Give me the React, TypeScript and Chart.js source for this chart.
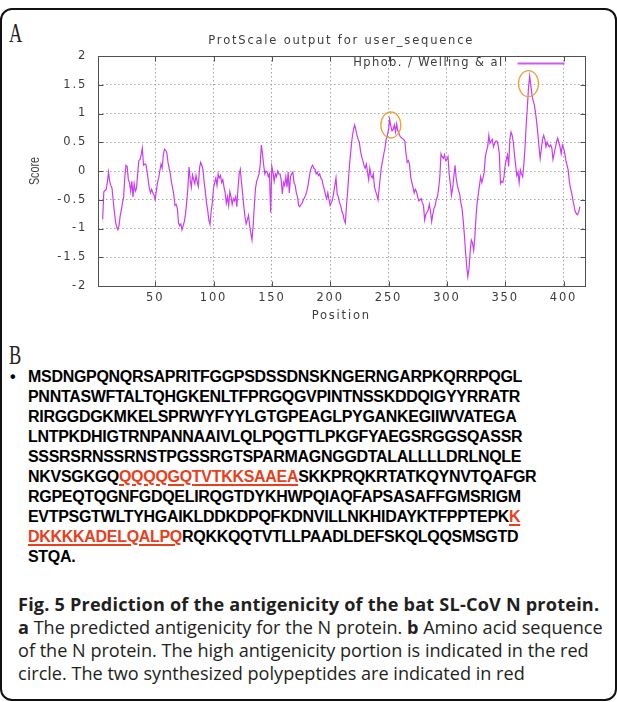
import React, { useEffect, useRef } from "react";
import { Chart, registerables } from "chart.js";

Chart.register(...registerables);

// ---------- DATA ----------
const FIRST_POSITION = 5;
const scores: number[] = [
  -0.84, -0.36, -0.34, -0.32, -0.2, -0.02, -0.18, -0.25, -0.3, -0.5,
  -0.7, -0.88, -0.97, -1.02, -0.95, -0.78, -0.68, -0.55, -0.45, -0.1,
  0.1, 0.08, -0.15, -0.2, -0.35, -0.18, -0.45, -0.22, -0.35, -0.3,
  -0.05, 0.18, 0.2, 0.28, 0.4, 0.1, 0.12, 0.12, 0.0, -0.15,
  -0.3, -0.38, -0.32, -0.38, -0.42, -0.5, -0.35, -0.2, -0.12, 0.0,
  0.12, 0.05, 0.28, 0.38, 0.36, 0.32, 0.15, 0.05, -0.05, -0.2,
  -0.3, -0.42, -0.6, -0.58, -0.65, -0.9, -0.95, -0.92, -1.02, -0.95,
  -0.88, -0.75, -0.55, -0.3, 0.07, -0.15, -0.28, -0.07, -0.15, -0.22,
  -0.08, -0.18, -0.27, 0.05, 0.15, 0.1, 0.02, -0.2, -0.35, -0.55,
  -0.68, -0.85, -0.93, -0.7, -0.55, -0.3, -0.2, -0.12, -0.25, -0.05,
  -0.12, -0.08, -0.2, -0.15, -0.28, -0.38, -0.56, -0.45, -0.6, -0.36,
  -0.45, -0.58, -0.48, -0.52, -0.45, -0.62, -0.3, -0.05, 0.03, -0.2,
  -0.4, -0.62, -0.8, -0.92, -0.85, -0.77, -0.95, -1.08, -1.2, -0.95,
  -0.6, -0.3, -0.18, -0.12, -0.05, 0.1, 0.45, 0.3, 0.1, -0.05,
  0.0, -0.02, -0.1, -0.05, -0.72, 0.08, -0.02, -0.18, -0.05, -0.1,
  0.0, -0.05, -0.05, -0.15, -0.4, -0.2, -0.25, -0.1, -0.28, -0.02,
  -0.38, -0.1, -0.05, -0.02, -0.2, -0.25, -0.38, -0.45, -0.6, -0.62,
  -0.58, -0.56, -0.5, -0.46, -0.42, -0.35, -0.25, -0.12, 0.0, 0.07,
  0.1, 0.05, 0.03, -0.05, -0.02, -0.08, -0.05, -0.12, -0.15, -0.25,
  -0.32, -0.42, -0.48, -0.38, -0.5, -0.6, -0.55, -0.5, -0.38, -0.25,
  -0.12, -0.4, -0.45, -0.55, -0.6, -0.7, -0.75, -0.85, -0.9, -0.6,
  -0.35, -0.05, 0.2, 0.42, 0.6, 0.72, 0.8, 0.72, 0.62, 0.55,
  0.5, 0.35, 0.25, 0.18, 0.1, 0.05, 0.12, -0.02, -0.15, 0.05,
  -0.08, -0.12, -0.05, -0.28, -0.35, -0.42, -0.5, -0.3, -0.1, 0.08,
  0.18, 0.3, 0.4, 0.55, 0.62, 0.72, 0.9, 0.78, 0.7, 0.72,
  0.8, 0.68, 0.82, 0.7, 0.65, 0.6, 0.58, 0.56, 0.55, 0.52,
  0.3, 0.15, 0.18, 0.12, -0.1, -0.2, -0.28, -0.38, -0.32, -0.36,
  -0.45, -0.52, -0.5, -0.48, -0.55, -0.6, -0.85, -0.75, -0.72, -0.68,
  -0.58, -0.7, -0.88, -0.75, -0.65, -0.6, -0.5, -0.44, -0.3, -0.1,
  0.3, 0.25, 0.22, 0.28, 0.18, 0.2, 0.25, -0.05, -0.22, -0.42,
  -0.3, -0.1, 0.1, -0.12, -0.25, -0.33, -0.4, -0.55, -0.65, -0.85,
  -1.1, -1.4, -1.65, -1.84, -1.7, -1.4, -1.2, -1.25, -1.38, -1.15,
  -0.8, -0.55, -0.4, -0.25, -0.1, -0.2, -0.12, -0.02, 0.25, 0.35,
  0.42, 0.62, 0.48, 0.52, 0.55, 0.42, 0.48, 0.52, 0.52, 0.45,
  0.3, -0.22, -0.18, -0.2, -0.1, 0.1, 0.2, 0.28, 0.08, 0.55,
  0.68, 0.62, 0.5, 0.28, 0.1, -0.08, -0.02, -0.2, 0.02, -0.05,
  -0.1, 0.12, 0.4, 0.8, 1.1, 1.45, 1.65, 1.48, 1.32, 1.22,
  1.15, 1.02, 0.85, 0.65, 0.42, 0.22, 0.38, 0.55, 0.62, 0.55,
  0.42, 0.5, 0.45, 0.42, 0.45, 0.4, 0.2, 0.3, 0.4, 0.5,
  0.57, 0.5, 0.42, 0.3, 0.45, 0.4, 0.32, 0.18, 0.1, 0.02,
  -0.18, -0.3, -0.38, -0.5, -0.6, -0.7, -0.74, -0.76, -0.72, -0.62,
];
const X_MIN = 1;
const X_MAX = 418;
const xTicks = [50, 100, 150, 200, 250, 300, 350, 400];
const yTicks = [-2, -1.5, -1, -0.5, 0, 0.5, 1, 1.5, 2];
const circleX = [252, 370];
const circleY = [0.8, 1.52];

const chartTitle = "ProtScale output for user_sequence";
const legendLabel = "Hphob. / Welling & al";
const xTitle = "Position";
const yTitle = "Score";

const seqRows: { t: string; red?: boolean }[][] = [
  [{ t: "MSDNGPQNQRSAPRITFGGPSDSSDNSKNGERNGARPKQRRPQGL" }],
  [{ t: "PNNTASWFTALTQHGKENLTFPRGQGVPINTNSSKDDQIGYYRRATR" }],
  [{ t: "RIRGGDGKMKELSPRWYFYYLGTGPEAGLPYGANKEGIIWVATEGA" }],
  [{ t: "LNTPKDHIGTRNPANNAAIVLQLPQGTTLPKGFYAEGSRGGSQASSR" }],
  [{ t: "SSSRSRNSSRNSTPGSSRGTSPARMAGNGGDTALALLLLDRLNQLE" }],
  [{ t: "NKVSGKGQ" }, { t: "QQQQGQTVTKKSAAEA", red: true }, { t: "SKKPRQKRTATKQYNVTQAFGR" }],
  [{ t: "RGPEQTQGNFGDQELIRQGTDYKHWPQIAQFAPSASAFFGMSRIGM" }],
  [{ t: "EVTPSGTWLTYHGAIKLDDKDPQFKDNVILLNKHIDAYKTFPPTEPK" }, { t: "K", red: true }],
  [{ t: "DKKKKADELQALPQ", red: true }, { t: "RQKKQQTVTLLPAADLDEFSKQLQQSMSGTD" }],
  [{ t: "STQA." }],
];

const captionTitle = "Fig. 5 Prediction of the antigenicity of the bat SL-CoV N protein.";
const captionLines: { t: string; b?: boolean }[][] = [
  [{ t: "a", b: true }, { t: " The predicted antigenicity for the N protein. " }, { t: "b", b: true }, { t: " Amino acid sequence" }],
  [{ t: "of the N protein. The high antigenicity portion is indicated in the red" }],
  [{ t: "circle. The two synthesized polypeptides are indicated in red" }],
];

// ---------- STYLE ----------
const GP_FONT = '"DejaVu Sans", sans-serif';
const GP_SIZE = 11.5;
const GP_TEXT = "#3c3c3c";
const LINE_COLOR = "#c93cf3";
const RED = "#e8401c";

const gnuplotPlugin = {
  id: "gnuplotDecor",
  beforeDraw(chart: any) {
    chart.ctx.letterSpacing = "1.8px";
  },
  afterDraw(chart: any) {
    const { ctx, chartArea: a } = chart;
    const x = chart.scales.x;
    const y = chart.scales.y;
    ctx.save();
    // plot frame
    ctx.strokeStyle = "#505050";
    ctx.lineWidth = 1;
    ctx.setLineDash([]);
    const L = Math.round(a.left) + 0.5;
    const T = Math.round(a.top) + 0.5;
    const R = Math.round(a.right) + 0.5;
    const B = Math.round(a.bottom) + 0.5;
    ctx.strokeRect(L, T, R - L, B - T);
    // tick marks (gnuplot style, inward, mirrored)
    ctx.beginPath();
    for (const v of xTicks) {
      const px = Math.round(x.getPixelForValue(v)) + 0.5;
      ctx.moveTo(px, B);
      ctx.lineTo(px, B - 5);
      ctx.moveTo(px, T);
      ctx.lineTo(px, T + 5);
    }
    for (const v of yTicks) {
      const py = Math.round(y.getPixelForValue(v)) + 0.5;
      ctx.moveTo(L, py);
      ctx.lineTo(L + 5, py);
      ctx.moveTo(R, py);
      ctx.lineTo(R - 5, py);
    }
    ctx.stroke();

    // highlight circles
    ctx.strokeStyle = "#eaa43a";
    ctx.lineWidth = 1.3;
    for (let i = 0; i < circleX.length; i++) {
      ctx.beginPath();
      ctx.ellipse(x.getPixelForValue(circleX[i]), y.getPixelForValue(circleY[i]), 10, 13, 0, 0, Math.PI * 2);
      ctx.stroke();
    }

    // texts
    ctx.fillStyle = GP_TEXT;
    ctx.font = `${GP_SIZE}px ${GP_FONT}`;
    ctx.letterSpacing = "1.8px";
    ctx.textBaseline = "middle";
    ctx.textAlign = "center";
    ctx.fillText(chartTitle, (a.left + a.right) / 2, a.top - 14.5);
    ctx.fillText(xTitle, (a.left + a.right) / 2, a.bottom + 30);
    // legend
    ctx.letterSpacing = "1.4px";
    ctx.textAlign = "right";
    ctx.fillText(legendLabel, a.right - 81, a.top + 7.5);
    ctx.strokeStyle = "#cf5cf2";
    ctx.lineWidth = 1.8;
    ctx.beginPath();
    ctx.moveTo(a.right - 67, a.top + 7.5);
    ctx.lineTo(a.right - 20, a.top + 7.5);
    ctx.stroke();
    // y title (condensed)
    ctx.letterSpacing = "0px";
    ctx.font = '15px "Liberation Sans", sans-serif';
    ctx.fillStyle = "#444";
    ctx.translate(35, (a.top + a.bottom) / 2);
    ctx.rotate(-Math.PI / 2);
    ctx.scale(0.72, 1);
    ctx.textAlign = "center";
    ctx.fillText(yTitle, 0, 0);
    ctx.restore();
    ctx.letterSpacing = "0px";
  },
};

function ProtScaleChart() {
  const ref = useRef<HTMLCanvasElement | null>(null);
  useEffect(() => {
    if (!ref.current) return;
    const tickFont = { family: GP_FONT, size: GP_SIZE };
    const chart = new Chart(ref.current, {
      type: "line",
      data: {
        datasets: [
          {
            label: legendLabel,
            data: scores.map((v, i) => ({ x: FIRST_POSITION + i, y: v })),
            borderColor: LINE_COLOR,
            borderWidth: 1.2,
            pointRadius: 0,
            tension: 0,
            fill: false,
          },
        ],
      },
      options: {
        animation: false,
        responsive: false,
        layout: { padding: { left: 0, right: 32.5, top: 56, bottom: 0 } },
        plugins: {
          legend: { display: false },
          title: { display: false },
          tooltip: { enabled: false },
        },
        scales: {
          x: {
            type: "linear",
            min: X_MIN,
            max: X_MAX,
            afterBuildTicks: (s: any) => {
              s.ticks = xTicks.map((v) => ({ value: v }));
            },
            afterFit: (s: any) => {
              s.height = 44;
            },
            grid: { color: "#a6a6a6", lineWidth: 1, drawTicks: false },
            border: { display: false, dash: [1.5, 2.5] },
            ticks: {
              padding: 5,
              font: tickFont,
              color: GP_TEXT,
              maxRotation: 0,
              autoSkip: false,
              callback: (v: any) => String(v),
            },
          },
          y: {
            type: "linear",
            min: -2,
            max: 2,
            afterBuildTicks: (s: any) => {
              s.ticks = yTicks.map((v) => ({ value: v }));
            },
            afterFit: (s: any) => {
              s.width = 98;
            },
            grid: { color: "#a6a6a6", lineWidth: 1, drawTicks: false },
            border: { display: false, dash: [1.5, 2.5] },
            ticks: {
              padding: 11,
              font: tickFont,
              color: GP_TEXT,
              autoSkip: false,
              callback: (v: any) => String(v),
            },
          },
        },
      },
      plugins: [gnuplotPlugin],
    } as any);
    return () => chart.destroy();
  }, []);
  return (
    <canvas
      ref={ref}
      width={617}
      height={330}
      style={{ position: "absolute", left: 0, top: 0, width: 617, height: 330 }}
    />
  );
}

export default function App() {
  const panelLetter: React.CSSProperties = {
    position: "absolute",
    left: 9,
    fontFamily: '"Liberation Serif", serif',
    fontSize: 27,
    lineHeight: "27px",
    color: "#222",
    transform: "scaleX(0.68)",
    transformOrigin: "left top",
  };
  return (
    <div
      style={{
        position: "absolute",
        left: 0,
        top: 0,
        width: 617,
        height: 702,
        background: "#fff",
        overflow: "hidden",
      }}
    >
      <div
        style={{
          position: "absolute",
          left: 0,
          top: 8,
          width: 617,
          height: 693,
          boxSizing: "border-box",
          border: "2px solid #111",
          borderRadius: 12,
        }}
      />
      <div style={{ ...panelLetter, top: 20 }}>A</div>
      <ProtScaleChart />
      <div style={{ ...panelLetter, top: 342 }}>B</div>
      <div
        style={{
          position: "absolute",
          left: 28,
          top: 367,
          fontFamily: '"Liberation Sans", Arial, sans-serif',
          fontWeight: 700,
          fontSize: 16,
          letterSpacing: "-0.3px",
          lineHeight: "20px",
          color: "#000",
          whiteSpace: "nowrap",
        }}
      >
        <span style={{ position: "absolute", left: -18, top: 0 }}>•</span>
        {seqRows.map((row, i) => (
          <div key={i}>
            {row.map((seg, j) =>
              seg.red ? (
                <span
                  key={j}
                  style={{
                    color: RED,
                    textDecoration: "underline",
                    textDecorationThickness: "1.5px",
                    textUnderlineOffset: "2px",
                  }}
                >
                  {seg.t}
                </span>
              ) : (
                <span key={j}>{seg.t}</span>
              )
            )}
          </div>
        ))}
      </div>
      <div
        style={{
          position: "absolute",
          left: 18,
          top: 593,
          fontFamily: '"Open Sans", "Noto Sans", sans-serif',
          fontSize: 18.1,
          lineHeight: "23px",
          color: "#231f20",
          whiteSpace: "nowrap",
        }}
      >
        <div style={{ fontWeight: 700, letterSpacing: "0.2px" }}>{captionTitle}</div>
        {captionLines.map((line, i) => (
          <div key={i}>
            {line.map((seg, j) => (
              <span key={j} style={{ fontWeight: seg.b ? 700 : 400 }}>
                {seg.t}
              </span>
            ))}
          </div>
        ))}
      </div>
    </div>
  );
}
